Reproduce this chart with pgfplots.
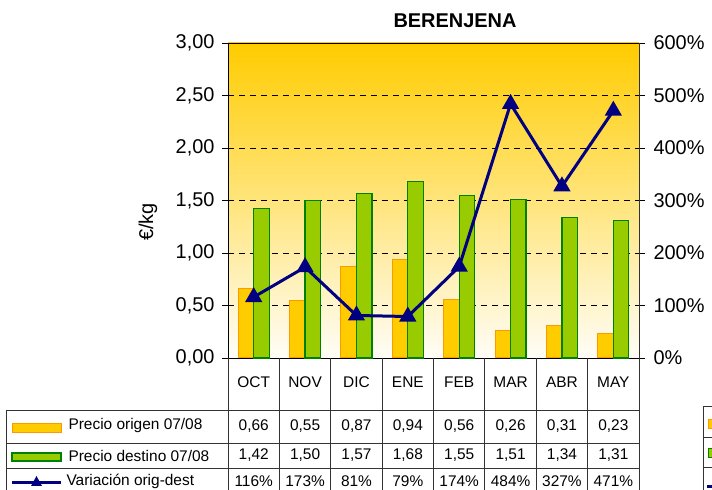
\documentclass[border=0pt]{standalone}
\usepackage{fontspec}
\setmainfont{Liberation Sans}
\usepackage{pgfplots}
\pgfplotsset{compat=1.18}
\definecolor{orig}{HTML}{FFCC00}
\definecolor{origedge}{HTML}{FF9900}
\definecolor{dest}{HTML}{99CC00}
\definecolor{destedge}{HTML}{008000}
\definecolor{varline}{HTML}{000080}
\definecolor{bgtop}{HTML}{FFCC00}
\definecolor{bgmid}{RGB}{253,229,160}
\definecolor{bgbot}{RGB}{255,253,247}

\pgfplotstableread{
x origen destino var
0 0.66 1.42 116
1 0.55 1.50 173
2 0.87 1.57 81
3 0.94 1.68 79
4 0.56 1.55 174
5 0.26 1.51 484
6 0.31 1.34 327
7 0.23 1.31 471
}\datatab

\begin{document}
\begin{tikzpicture}[x=1bp,y=1bp]
\path[use as bounding box] (0,0) rectangle (712,490);

\begin{axis}[
  at={(228bp,132bp)}, anchor=south west,
  width=411bp, height=315bp, scale only axis,
  xmin=-0.5, xmax=7.5, ymin=0, ymax=3,
  xtick=\empty,
  ytick={0,0.5,1,1.5,2,2.5,3},
  yticklabels={{0,00},{0,50},{1,00},{1,50},{2,00},{2,50},{3,00}},
  ytick pos=left, tick align=outside, major tick length=6bp,
  yticklabel style={font=\fontsize{20}{24}\selectfont, xshift=-4bp},
  ymajorgrids,
  grid style={black, line width=0.8bp, dash pattern=on 6bp off 5bp},
  axis line style={black, line width=0.9bp},
  tick style={black, line width=0.9bp},
  axis background/.style={shade, top color=bgtop, middle color=bgmid, bottom color=bgbot},
  ybar=0pt, bar width=15.5bp,
  clip=false,
]
\addplot[fill=orig, draw=origedge, line width=1bp] table[x=x, y=origen] {\datatab};
\addplot[fill=dest, draw=destedge, line width=1.2bp] table[x=x, y=destino] {\datatab};
\end{axis}

\begin{axis}[
  at={(228bp,132bp)}, anchor=south west,
  width=411bp, height=315bp, scale only axis,
  xmin=-0.5, xmax=7.5, ymin=0, ymax=600,
  axis x line=none, axis y line*=right,
  ytick={0,100,200,300,400,500,600},
  yticklabels={0\%,100\%,200\%,300\%,400\%,500\%,600\%},
  tick align=outside, major tick length=6bp,
  yticklabel style={font=\fontsize{20}{24}\selectfont, xshift=5bp},
  axis line style={black!80, line width=0.9bp},
  tick style={black, line width=0.9bp},
  clip=false,
]
\addplot[varline, line width=3bp, mark=triangle*, mark size=7bp, mark options={solid}] table[x=x, y=var] {\datatab};
\end{axis}

% title and axis label
\node[font=\bfseries\fontsize{20}{24}\selectfont] at (455,469) {BERENJENA};
\node[rotate=90, font=\fontsize{20}{24}\selectfont] at (148,268) {€/kg};

% data table
\begin{scope}[line width=0.8bp, draw=black!80]
  \foreach \k in {0,...,8} {
    \draw ({228+\k*51.375},132) -- ({228+\k*51.375},0);
  }
  \draw (6,80) -- (639,80);
  \draw (6,47) -- (639,47);
  \draw (6,22) -- (639,22);
  \draw (6,80) -- (6,0);
\end{scope}

\begin{scope}[font=\fontsize{15.5}{18}\selectfont]
\foreach \k/\c/\o/\d/\v in {
  0/OCT/0{,}66/1{,}42/116,
  1/NOV/0{,}55/1{,}50/173,
  2/DIC/0{,}87/1{,}57/81,
  3/ENE/0{,}94/1{,}68/79,
  4/FEB/0{,}56/1{,}55/174,
  5/MAR/0{,}26/1{,}51/484,
  6/ABR/0{,}31/1{,}34/327,
  7/MAY/0{,}23/1{,}31/471} {
  \node at ({253.7+\k*51.375},108) {\c};
  \node at ({253.7+\k*51.375},64) {\o};
  \node at ({253.7+\k*51.375},34.5) {\d};
  \node at ({253.7+\k*51.375},8.5) {\v\%};
}
% legend keys
\fill[orig, draw=origedge, line width=1bp] (12,57) rectangle (61,66);
\node[anchor=west] at (65,64) {Precio origen 07/08};
\fill[dest, draw=destedge, line width=1.2bp] (12,29) rectangle (61,37);
\node[anchor=west] at (65,34.5) {Precio destino 07/08};
\draw[varline, line width=3bp] (12,7) -- (61,7);
\fill[varline] (36.5,14) -- (31,4) -- (42,4) -- cycle;
\node[anchor=west] at (63,8.5) {Variación orig-dest};
\end{scope}

% clipped second legend at the right edge
\begin{scope}[line width=0.8bp]
  \draw[black!80] (703,84) -- (712,84);
  \draw[black!80] (703,84) -- (703,0);
  \draw[black!80] (703,53) -- (712,53);
  \draw[black!80] (703,23) -- (712,23);
  \fill[orig, draw=origedge] (708,62) rectangle (713,71);
  \fill[dest, draw=destedge] (708,33) rectangle (713,42);
  \draw[varline, line width=3bp] (707,3) -- (712,3);
\end{scope}
\end{tikzpicture}
\end{document}
